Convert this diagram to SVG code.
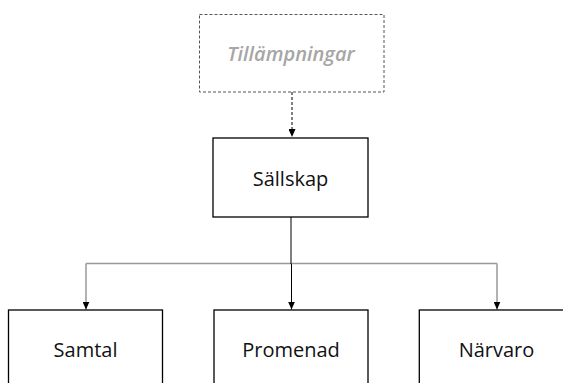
<svg xmlns="http://www.w3.org/2000/svg" width="563" height="383" viewBox="0 0 563 383">
  <defs>
    <marker id="arrow" viewBox="0 0 8 7" refX="8" refY="3.5" markerWidth="8" markerHeight="7" markerUnits="userSpaceOnUse" orient="auto">
      <path d="M0,0 L8,3.5 L0,7 Z" fill="#000"/>
    </marker>
  </defs>
  <style>
    .box { fill: #fff; stroke: #000; stroke-width: 1.3; }
    .ghost { fill: #fff; stroke: #555; stroke-width: 1; stroke-dasharray: 3 2; }
    .label { font-family: "Open Sans", "Noto Sans", "DejaVu Sans", sans-serif; font-size: 20px; fill: #111; text-anchor: middle; }
    .ghost-label { font-family: "Open Sans", "Noto Sans", "DejaVu Sans", sans-serif; font-size: 20px; font-style: italic; font-weight: 600; fill: #a6a6a6; text-anchor: middle; }
    .link { fill: none; stroke: #000; stroke-width: 1; }
    .branch { fill: none; stroke: #999; stroke-width: 1.5; }
    .dashed { fill: none; stroke: #000; stroke-width: 1; stroke-dasharray: 3 2; }
  </style>

  <g id="connectors">
    <path class="dashed" d="M292,92 V137" marker-end="url(#arrow)"/>
    <path class="branch" d="M86,263.5 H497"/>
    <path class="branch" d="M86,263.5 V309.5" marker-end="url(#arrow)"/>
    <path class="branch" d="M497,263.5 V309.5" marker-end="url(#arrow)"/>
    <path class="link" d="M291,217 V264"/>
    <path class="link" d="M291.5,264 V309.5" marker-end="url(#arrow)"/>
  </g>

  <g id="tillampningar">
    <rect class="ghost" x="199.5" y="14.5" width="184.5" height="77.5"/>
    <text class="ghost-label" x="291" y="60.5">Tillämpningar</text>
  </g>

  <g id="sallskap">
    <rect class="box" x="213" y="138" width="155" height="79"/>
    <text class="label" x="290.5" y="185.5">Sällskap</text>
  </g>

  <g id="samtal">
    <rect class="box" x="8.5" y="310" width="154" height="90"/>
    <text class="label" x="85.5" y="356.5">Samtal</text>
  </g>

  <g id="promenad">
    <rect class="box" x="214" y="310" width="154" height="90"/>
    <text class="label" x="291" y="356.5">Promenad</text>
  </g>

  <g id="narvaro">
    <rect class="box" x="419.3" y="310" width="154" height="90"/>
    <text class="label" x="496.5" y="356.5">Närvaro</text>
  </g>
</svg>
